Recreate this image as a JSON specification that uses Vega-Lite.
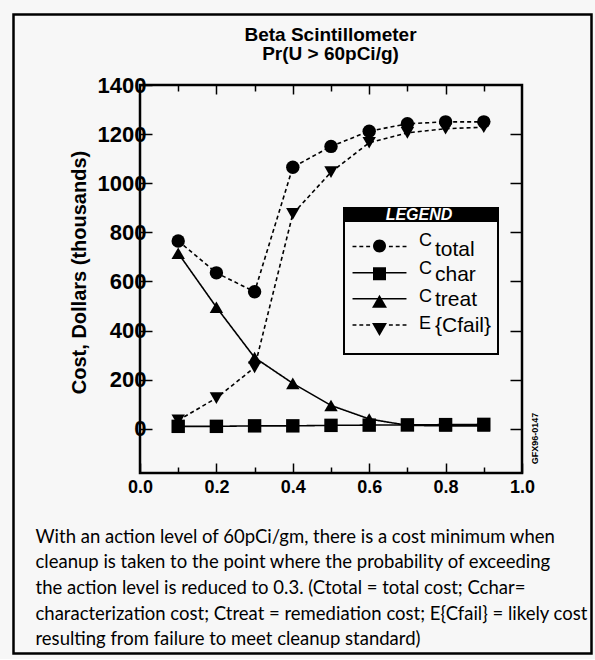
{
  "$schema": "https://vega.github.io/schema/vega-lite/v6.json",
  "width": 382,
  "height": 388,
  "padding": {"left": 12, "top": 13, "right": 0, "bottom": 0},
  "background": "#f7f7f7",
  "data": {
    "values": [
      {"series": "C_total", "p": 0.1, "cost": 765},
      {"series": "C_total", "p": 0.2, "cost": 635},
      {"series": "C_total", "p": 0.3, "cost": 558},
      {"series": "C_total", "p": 0.4, "cost": 1065},
      {"series": "C_total", "p": 0.5, "cost": 1150},
      {"series": "C_total", "p": 0.6, "cost": 1212},
      {"series": "C_total", "p": 0.7, "cost": 1242},
      {"series": "C_total", "p": 0.8, "cost": 1250},
      {"series": "C_total", "p": 0.9, "cost": 1250},
      {"series": "E_Cfail", "p": 0.1, "cost": 35},
      {"series": "E_Cfail", "p": 0.2, "cost": 125},
      {"series": "E_Cfail", "p": 0.3, "cost": 250},
      {"series": "E_Cfail", "p": 0.4, "cost": 875},
      {"series": "E_Cfail", "p": 0.5, "cost": 1045},
      {"series": "E_Cfail", "p": 0.6, "cost": 1165},
      {"series": "E_Cfail", "p": 0.7, "cost": 1205},
      {"series": "E_Cfail", "p": 0.8, "cost": 1222},
      {"series": "E_Cfail", "p": 0.9, "cost": 1228},
      {"series": "C_treat", "p": 0.1, "cost": 715},
      {"series": "C_treat", "p": 0.2, "cost": 495},
      {"series": "C_treat", "p": 0.3, "cost": 290},
      {"series": "C_treat", "p": 0.4, "cost": 185},
      {"series": "C_treat", "p": 0.5, "cost": 95},
      {"series": "C_treat", "p": 0.6, "cost": 40},
      {"series": "C_treat", "p": 0.7, "cost": 14},
      {"series": "C_treat", "p": 0.8, "cost": 12},
      {"series": "C_treat", "p": 0.9, "cost": 12},
      {"series": "C_char", "p": 0.1, "cost": 10},
      {"series": "C_char", "p": 0.2, "cost": 10},
      {"series": "C_char", "p": 0.3, "cost": 12},
      {"series": "C_char", "p": 0.4, "cost": 12},
      {"series": "C_char", "p": 0.5, "cost": 14},
      {"series": "C_char", "p": 0.6, "cost": 15},
      {"series": "C_char", "p": 0.7, "cost": 16},
      {"series": "C_char", "p": 0.8, "cost": 17},
      {"series": "C_char", "p": 0.9, "cost": 18}
    ]
  },
  "layer": [
    {
      "mark": {"type": "line", "color": "black", "strokeWidth": 1.6},
      "encoding": {
        "x": {
          "field": "p", "type": "quantitative",
          "scale": {"domain": [0, 1], "nice": false, "zero": false},
          "axis": {
            "orient": "bottom",
            "values": [0, 0.2, 0.4, 0.6, 0.8, 1],
            "format": ".1f",
            "tickSize": -10,
            "labelPadding": 15,
            "labelFontSize": 18,
            "labelFontWeight": "bold",
            "labelFlush": false,
            "title": [
              "With an action level of 60pCi/gm, there is a cost minimum when",
              "cleanup is taken to the point where the probability of exceeding",
              "the action level is reduced to 0.3.  (Ctotal = total cost; Cchar=",
              "characterization cost; Ctreat = remediation cost; E{Cfail} = likely cost",
              "resulting from failure to meet cleanup standard)"
            ],
            "titleFont": "Lato",
            "titleFontSize": 18.5,
            "titleFontWeight": "normal",
            "titleAlign": "left",
            "titleBaseline": "top",
            "titleX": -105,
            "titleY": 54,
            "titleLineHeight": 25.7,
            "titleColor": "black"
          }
        },
        "y": {
          "field": "cost", "type": "quantitative",
          "scale": {"domain": [-180, 1400], "nice": false, "zero": false},
          "axis": {
            "orient": "left",
            "values": [0, 200, 400, 600, 800, 1000, 1200, 1400],
            "format": "d",
            "tickSize": -12,
            "labelPadding": 6,
            "labelFontSize": 22,
            "labelFontWeight": "bold",
            "labelFlush": false,
            "title": "Cost, Dollars (thousands)",
            "titleFontSize": 20,
            "titleFontWeight": "bold",
            "titleAngle": 270,
            "titleAlign": "center",
            "titleBaseline": "middle",
            "titleX": -61,
            "titleY": 187,
            "titleColor": "black"
          }
        },
        "strokeDash": {
          "field": "series", "type": "nominal",
          "scale": {"domain": ["C_total", "C_char", "C_treat", "E_Cfail"], "range": [[4, 3], [1, 0], [1, 0], [4, 3]]},
          "legend": null
        }
      }
    },
    {
      "mark": {"type": "point", "filled": true, "color": "black", "size": 180, "opacity": 1},
      "encoding": {
        "x": {
          "field": "p", "type": "quantitative",
          "scale": {"domain": [0, 1], "nice": false, "zero": false},
          "axis": {"orient": "bottom", "values": [0.1, 0.3, 0.5, 0.7, 0.9], "tickSize": -6, "labels": false, "title": null}
        },
        "y": {
          "field": "cost", "type": "quantitative",
          "scale": {"domain": [-180, 1400], "nice": false, "zero": false},
          "axis": {
            "orient": "right",
            "values": [0, 200, 400, 600, 800, 1000, 1200],
            "tickSize": -12,
            "labels": false,
            "title": "GFX96-0147",
            "titleFontSize": 9,
            "titleFontWeight": "bold",
            "titleAngle": 270,
            "titleAlign": "center",
            "titleBaseline": "middle",
            "titleX": 12,
            "titleY": 353,
            "titleColor": "black"
          }
        },
        "shape": {
          "field": "series", "type": "nominal",
          "scale": {"domain": ["C_total", "C_char", "C_treat", "E_Cfail"], "range": ["circle", "square", "triangle-up", "triangle-down"]},
          "legend": null
        }
      }
    },
    {
      "transform": [{"filter": "datum.series == 'C_total'"}],
      "mark": {"type": "point", "filled": false, "strokeWidth": 2.5, "opacity": 0},
      "encoding": {
        "x": {
          "field": "p", "type": "quantitative",
          "scale": {"domain": [0, 1], "nice": false, "zero": false},
          "axis": {
            "orient": "top",
            "values": [0.2, 0.4, 0.6, 0.8],
            "tickSize": -9,
            "labels": false,
            "title": ["Beta Scintillometer", "Pr(U > 60pCi/g)"],
            "titleFontSize": 19,
            "titleFontWeight": "bold",
            "titleAlign": "center",
            "titleBaseline": "alphabetic",
            "titleX": 190,
            "titleY": -45,
            "titleLineHeight": 19,
            "titleColor": "black"
          }
        },
        "y": {"field": "cost", "type": "quantitative", "scale": {"domain": [-180, 1400], "nice": false, "zero": false}, "axis": null},
        "stroke": {
          "field": "series", "type": "nominal",
          "scale": {"range": ["black"]},
          "legend": {
            "orient": "none", "legendX": -128, "legendY": -72, "title": null, "padding": 0,
            "direction": "vertical",
            "symbolType": "M-1,-1H56.8V62.9H-1Z",
            "symbolSize": 400,
            "symbolStrokeWidth": 2.5,
            "symbolFillColor": "transparent",
            "labelExpr": "''"
          }
        }
      }
    },
    {
      "transform": [{"filter": "datum.series == 'C_total'"}],
      "mark": {"type": "point", "filled": true, "stroke": "black", "strokeWidth": 2, "opacity": 0},
      "encoding": {
        "x": {
          "field": "p", "type": "quantitative",
          "scale": {"domain": [0, 1], "nice": false, "zero": false},
          "axis": {"orient": "top", "values": [0.1, 0.3, 0.5, 0.7, 0.9], "tickSize": -6, "labels": false, "title": null}
        },
        "y": {"field": "cost", "type": "quantitative", "scale": {"domain": [-180, 1400], "nice": false, "zero": false}, "axis": null},
        "color": {
          "field": "series", "type": "nominal",
          "scale": {"range": ["#f7f7f7"]},
          "legend": {
            "orient": "none", "legendX": 203, "legendY": 122, "title": null, "padding": 0,
            "direction": "vertical",
            "symbolType": "M-1,-1H14.4V13.6H-1Z",
            "symbolSize": 400,
            "symbolStrokeColor": "black",
            "symbolStrokeWidth": 2,
            "labelExpr": "''"
          }
        }
      }
    },
    {
      "transform": [{"filter": "datum.series == 'C_total'"}],
      "mark": {"type": "point", "filled": true, "strokeWidth": 0, "opacity": 0},
      "encoding": {
        "x": {"field": "p", "type": "quantitative", "scale": {"domain": [0, 1], "nice": false, "zero": false}, "axis": null},
        "y": {"field": "cost", "type": "quantitative", "scale": {"domain": [-180, 1400], "nice": false, "zero": false}, "axis": null},
        "fill": {
          "field": "series", "type": "nominal",
          "scale": {"range": ["black"]},
          "legend": {
            "orient": "none", "legendX": 203, "legendY": 122, "title": null, "padding": 0,
            "direction": "vertical",
            "symbolType": "M-1,-1H21V1H-1Z",
            "symbolSize": 196,
            "symbolStrokeWidth": 0,
            "labelExpr": "'LEGEND'",
            "labelColor": "white",
            "labelFontSize": 16,
            "labelFontStyle": "italic",
            "labelFontWeight": "bold",
            "labelAlign": "center",
            "labelBaseline": "middle",
            "labelOffset": 60
          }
        }
      }
    },
    {
      "mark": {"type": "point", "filled": false, "color": "black", "strokeWidth": 1.5, "opacity": 0},
      "encoding": {
        "x": {"field": "p", "type": "quantitative", "scale": {"domain": [0, 1], "nice": false, "zero": false}, "axis": null},
        "y": {"field": "cost", "type": "quantitative", "scale": {"domain": [-180, 1400], "nice": false, "zero": false}, "axis": null},
        "shape": {
          "field": "series", "type": "nominal",
          "scale": {
            "domain": ["C_total", "C_char", "C_treat", "E_Cfail"],
            "range": [
              "M-4.15,0H-3.55M-3.1,0H-2.5M-2.05,0H-1.45M1.45,0H2.05M2.5,0H3.1M3.55,0H4.15",
              "M-4.15,0H4.15",
              "M-4.15,0H4.15",
              "M-4.15,0H-3.55M-3.1,0H-2.5M-2.05,0H-1.45M1.45,0H2.05M2.5,0H3.1M3.55,0H4.15"
            ]
          },
          "legend": {
            "orient": "none", "legendX": 210, "legendY": 152.5, "title": null, "padding": 0,
            "direction": "vertical",
            "symbolSize": 169,
            "symbolOffset": 20.5,
            "symbolStrokeColor": "black",
            "symbolStrokeWidth": 1.5,
            "labelOffset": 30.5,
            "labelExpr": "' '",
            "labelFontSize": 18,
            "labelOpacity": 0,
            "labelBaseline": "alphabetic",
            "rowPadding": 8.15
          }
        }
      }
    },
    {
      "mark": {"type": "point", "filled": true, "color": "black", "opacity": 0},
      "encoding": {
        "x": {"field": "p", "type": "quantitative", "scale": {"domain": [0, 1], "nice": false, "zero": false}, "axis": null},
        "y": {"field": "cost", "type": "quantitative", "scale": {"domain": [-180, 1400], "nice": false, "zero": false}, "axis": null},
        "shape": {
          "field": "series", "type": "nominal",
          "scale": {
            "domain": ["C_total", "C_char", "C_treat", "E_Cfail"],
            "range": [
              "M1,0A1,1,0,1,1,-1,0A1,1,0,1,1,1,0Z",
              "M-1,-1H1V1H-1Z",
              "M0,-1.05L1.15,0.95H-1.15Z",
              "M0,1.05L1.15,-0.95H-1.15Z"
            ]
          },
          "legend": {
            "orient": "none", "legendX": 210, "legendY": 152, "title": null, "padding": 0,
            "direction": "vertical",
            "symbolSize": 169,
            "symbolOffset": 20.5,
            "labelOffset": 30.5,
            "labelExpr": "datum.value == 'E_Cfail' ? 'E' : 'C'",
            "labelFontSize": 18,
            "labelColor": "black",
            "labelBaseline": "alphabetic",
            "rowPadding": 3.75
          }
        }
      }
    },
    {
      "mark": {"type": "point", "filled": true, "color": "black", "opacity": 0},
      "encoding": {
        "x": {"field": "p", "type": "quantitative", "scale": {"domain": [0, 1], "nice": false, "zero": false}, "axis": null},
        "y": {"field": "cost", "type": "quantitative", "scale": {"domain": [-180, 1400], "nice": false, "zero": false}, "axis": null},
        "strokeDash": {
          "field": "series", "type": "nominal",
          "scale": {"domain": ["C_total", "C_char", "C_treat", "E_Cfail"], "range": [[1, 0], [1, 0], [1, 0], [1, 0]]},
          "legend": {
            "orient": "none", "legendX": 210, "legendY": 160, "title": null, "padding": 0,
            "direction": "vertical",
            "symbolType": "circle",
            "symbolSize": 169,
            "symbolOffset": 20.5,
            "symbolOpacity": 0,
            "labelOffset": 43.5,
            "labelExpr": "datum.value == 'C_total' ? 'total' : datum.value == 'C_char' ? 'char' : datum.value == 'C_treat' ? 'treat' : '{Cfail}'",
            "labelFontSize": 21,
            "labelColor": "black",
            "labelBaseline": "alphabetic",
            "rowPadding": 1.35
          }
        }
      }
    }
  ],
  "resolve": {
    "scale": {"shape": "independent", "color": "independent", "fill": "independent", "stroke": "independent", "strokeDash": "independent"},
    "axis": {"x": "independent", "y": "independent"}
  },
  "config": {
    "font": "Liberation Sans",
    "view": {"stroke": "black", "strokeWidth": 2.5},
    "axis": {"domain": false, "grid": false, "tickColor": "black", "tickWidth": 1.5, "labelColor": "black"}
  }
}
